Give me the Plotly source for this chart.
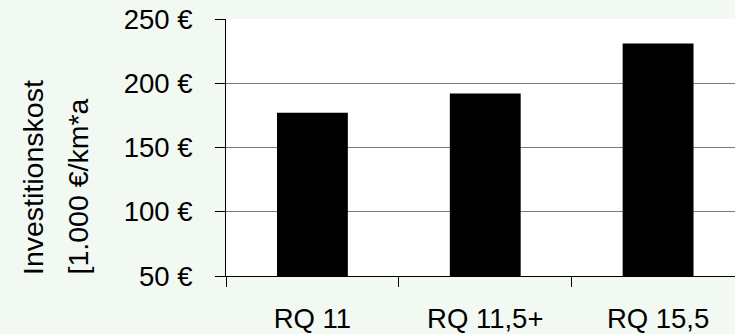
import plotly.graph_objects as go

categories = ["RQ 11", "RQ 11,5+", "RQ 15,5"]
values = [177, 192, 231]
y_ticks = [50, 100, 150, 200, 250]
y_title_1 = "Investitionskost"
y_title_2 = "[1.000 €/km*a"

W, H = 735, 334
ML, MT, MB, MR = 226, 19, 58, 0
PW = W - ML - MR
PH = H - MT - MB

def px_x(p):
    return (p - ML) / PW

def px_y(p):
    return (H - MB - p) / PH

FONT = "Liberation Sans, Arial, sans-serif"

fig = go.Figure(
    go.Bar(
        x=categories,
        y=values,
        width=0.41,
        marker=dict(color="black", line=dict(width=0)),
    )
)

fig.update_layout(
    width=W,
    height=H,
    margin=dict(l=ML, r=MR, t=MT, b=MB, pad=0),
    paper_bgcolor="#f2f8f2",
    plot_bgcolor="white",
    font=dict(family=FONT, size=27, color="black"),
    showlegend=False,
    bargap=0.59,
)

fig.update_xaxes(
    type="category",
    range=[-0.5, 2.445],
    showline=True,
    linecolor="black",
    linewidth=1,
    ticks="outside",
    tickson="boundaries",
    ticklen=10,
    tickcolor="black",
    tickwidth=1,
    showgrid=False,
    ticklabelstandoff=18,
    tickfont=dict(size=27.5),
)

fig.update_yaxes(
    range=[50, 250],
    tickvals=y_ticks,
    ticktext=[f"{v} €" for v in y_ticks],
    showline=True,
    linecolor="black",
    linewidth=1,
    ticks="outside",
    ticklen=10,
    tickcolor="black",
    tickwidth=1,
    showgrid=True,
    gridcolor="#7a7a7a",
    gridwidth=1.3,
    zeroline=False,
    ticklabelstandoff=17,
    tickfont=dict(size=27.5),
)

fig.add_annotation(
    text=y_title_1, textangle=-90, xref="paper", yref="paper",
    x=px_x(32.5), y=px_y(277), xanchor="center", yanchor="bottom",
    showarrow=False, font=dict(size=28.5, color="black"),
)
fig.add_annotation(
    text=y_title_2, textangle=-90, xref="paper", yref="paper",
    x=px_x(77.5), y=px_y(277), xanchor="center", yanchor="bottom",
    showarrow=False, font=dict(size=28.5, color="black"),
)

fig.write_html("out.html")
